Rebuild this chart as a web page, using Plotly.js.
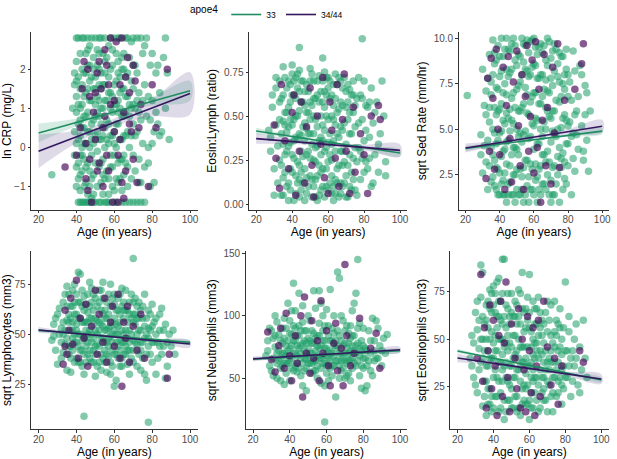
<!DOCTYPE html>
<html><head><meta charset="utf-8">
<script src="https://cdn.plot.ly/plotly-3.0.1.min.js"></script>
<style>html,body{margin:0;padding:0;background:#fff;overflow:hidden}#chart{width:617px;height:459px}</style>
</head><body><div id="chart"></div>
<script>
// ---------- data ----------
const groups = ["33", "34/44"];
const xTicks = [20, 40, 60, 80, 100];
const fitAge = [20, 40, 60, 80, 100];

// Panel 1: ln CRP
const crp33 = [[27,-0.7],[40,2.2],[41,1.8],[42,1.5],[43,1.1],[40,0.9],[41,0.6],[42,0.3],[43,0.0],[44,-0.3],[40,-0.5],[41,-0.8],[42,-1.1],[43,-1.4],[44,1.9],[45,2.4],[39,1.6],[40,1.3],[41,0.2],[42,-0.2],[43,-0.6],[44,0.8],[45,1.4],[39,0.4],[40,-1.0],[41,2.8],[44,2.8],[45,-1.4],[38,1.0],[43,2.0],[44,0.5],[45,-0.9],[42,1.0],[45,0.1],[41,-1.4],[39,-0.2],
[46,2.1],[47,1.7],[48,1.2],[49,0.7],[50,0.3],[51,-0.1],[52,-0.5],[53,-0.9],[54,-1.2],[55,1.9],[46,0.9],[47,0.4],[48,-0.2],[49,-0.7],[50,-1.4],[51,2.5],[52,2.0],[53,1.5],[54,1.0],[55,0.5],[46,-0.4],[47,-1.0],[48,2.8],[49,2.3],[50,1.8],[51,1.3],[52,0.8],[53,0.2],[54,-0.3],[55,-0.8],[46,1.5],[47,2.6],[48,0.6],[49,-1.2],[50,2.8],[51,0.9],[52,-1.4],[53,2.8],[54,2.4],[55,-1.4],[50,1.1],[48,-0.8],[53,0.6],[47,0.0],[52,1.6],[55,1.2],
[56,2.3],[57,1.8],[58,1.4],[59,0.9],[60,0.4],[61,0.0],[62,-0.4],[63,-0.8],[64,-1.1],[65,2.0],[56,0.7],[57,0.1],[58,-0.5],[59,-1.0],[60,2.8],[61,2.4],[62,1.9],[63,1.4],[64,0.8],[65,0.3],[56,-1.4],[57,2.6],[58,1.0],[59,2.1],[60,1.6],[61,1.1],[62,0.6],[63,0.2],[64,-0.3],[65,-0.7],[57,-0.8],[59,0.3],[61,-1.4],[63,2.8],[65,1.5],[60,-0.2],[62,1.2],[64,2.3],[58,2.8],
[66,1.8],[67,1.3],[68,0.8],[69,0.3],[70,-0.2],[71,-0.6],[72,1.9],[73,1.4],[74,0.7],[75,0.1],[66,-0.4],[67,-1.0],[68,2.3],[69,2.7],[70,1.5],[71,1.0],[72,0.4],[73,-0.3],[74,-0.9],[75,2.4],[66,2.8],[68,-1.4],[70,2.8],[72,-1.4],[74,2.8],[67,0.4],[69,1.0],[71,2.1],[73,0.9],[75,1.2],[66,0.9],[70,0.6],
[76,1.6],[77,0.8],[78,0.0],[79,2.1],[80,1.2],[81,0.4],[82,1.9],[83,0.6],[84,1.4],[85,0.4],[86,2.3],[88,1.9],[89,0.2],[76,-0.5],[77,2.8],[78,1.3],[79,0.7],[80,2.4],[81,-0.9],[82,0.9],[76,2.6],[78,-0.4],[80,0.1],[83,2.1],[84,0.3],[87,2.8],[76,-1.4],[79,-1.0],[87,1.0],[74,-1.4],
[39,1.9],[40,0.1],[40,1.7],[41,1.1],[41,-0.4],[42,2.4],[42,0.7],[42,-0.7],[43,1.6],[43,0.5],[43,-0.2],[44,1.3],[44,0.1],[44,-1.0],[45,0.8],[45,1.9],[45,-0.5],[46,2.5],[46,0.4],[46,-1.2],[47,1.2],[47,-0.6],[47,2.1],[48,1.8],[48,0.2],[48,-1.3],[49,1.5],[49,0.1],[49,2.0],[50,0.8],[50,-0.4],[50,1.5],[51,2.1],[51,0.4],[51,-1.0],[52,1.2],[52,0.2],[52,2.4],[53,1.0],[53,-0.4],[53,1.9],[54,1.6],[54,0.3],[54,-0.7],[55,2.2],[55,0.0],[55,1.6],[56,1.2],[56,0.2],[56,-0.6],[57,1.4],[57,0.6],[57,-1.2],[58,2.0],[58,0.3],[58,-0.2],[59,1.3],[59,-0.5],[59,2.5],[60,1.1],[60,0.1],[60,-1.1],[61,1.7],[61,0.6],[61,-0.8],[62,2.2],[62,0.9],[62,-0.9],[63,1.0],[63,-0.3],[63,1.8],[64,1.5],[64,0.2],[64,2.0],[65,0.8],[65,-0.2],[65,2.4],[66,1.3],[66,0.3],[67,1.9],[67,-0.5],[68,1.1],[68,0.0],[69,1.7],[69,-0.8],[70,1.1],[70,2.1],[71,0.3],[72,1.2],[73,-0.9],
[40,2.8],[43,2.8],[46,2.8],[52,2.8],[55,2.8],[62,2.8],[67,2.8],[72,2.8],[42,-1.4],[44,-1.4],[46,-1.4],[47,-1.4],[49,-1.4],[53,-1.4],[57,-1.4],[60,-1.4],[64,-1.4],[66,-1.4],[70,-1.4]];
const crp3444 = [[34,-0.5],[40,-0.2],[42,0.5],[44,2.2],[45,-0.8],[47,1.3],[48,-1.4],[50,0.2],[51,1.9],[52,-0.4],[53,1.5],[54,-1.0],[55,0.8],[56,2.1],[57,-0.6],[58,1.1],[59,-1.4],[60,0.4],[61,2.7],[62,-0.2],[63,1.6],[64,-0.9],[65,0.9],[66,-0.6],[67,2.3],[68,1.4],[69,0.4],[70,-0.3],[71,1.7],[72,-0.9],[73,0.5],[74,1.1],[78,-1.0],[80,1.6],[82,0.5],[88,2.0],[62,-1.4],[64,2.8],[58,2.8],[46,2.0],
[43,1.5],[45,0.1],[47,-0.3],[49,0.9],[50,1.4],[52,2.2],[54,0.5],[56,-0.2],[57,1.6],[60,1.2],[63,0.2],[65,-1.3],[66,1.8],[68,0.6],[70,2.1],[46,-1.1],[51,-0.6],[55,2.5]];
const crpFit33 = [0.37, 0.64, 0.91, 1.18, 1.45];
const crpSe33 = [0.24, 0.10, 0.06, 0.11, 0.25];
const crpFit3444 = [-0.10, 0.27, 0.64, 1.01, 1.38];
const crpSe3444 = [0.43, 0.16, 0.10, 0.22, 0.54];

// Panel 2: Eosin:Lymph
const el33 = [[27,0.42],[28,0.30],[29,0.55],[30,0.20],[31,0.66],[32,0.12],[33,0.48],[28,0.38],[30,0.05],[31,0.72],[32,0.33],[33,0.25],[29,0.62],[31,0.45],[33,0.70],
[34,0.05],[35,0.15],[36,0.28],[37,0.41],[38,0.55],[39,0.68],[40,0.74],[41,0.62],[42,0.50],[43,0.37],[44,0.22],[45,0.08],[34,0.60],[35,0.47],[36,0.72],[37,0.10],[38,0.33],[39,0.20],[40,0.45],[41,0.02],[42,0.16],[43,0.66],[44,0.53],[45,0.39],[36,0.52],[38,0.02],[40,0.28],[42,0.72],[44,0.76],[35,0.34],[39,0.48],[41,0.36],[43,0.12],[45,0.58],
[46,0.70],[47,0.56],[48,0.43],[49,0.30],[50,0.16],[51,0.04],[52,0.25],[53,0.48],[54,0.62],[55,0.73],[56,0.38],[57,0.10],[58,0.55],[59,0.20],[60,0.66],[46,0.27],[47,0.02],[48,0.68],[49,0.52],[50,0.40],[51,0.74],[52,0.60],[53,0.14],[54,0.33],[55,0.05],[56,0.64],[57,0.45],[58,0.30],[59,0.72],[60,0.08],[48,0.15],[50,0.58],[52,0.40],[54,0.02],[56,0.18],[58,0.75],[60,0.35],[47,0.36],[53,0.32],[57,0.70],[59,0.50],
[61,0.28],[62,0.50],[63,0.68],[64,0.14],[65,0.40],[66,0.04],[67,0.58],[68,0.22],[69,0.72],[70,0.34],[71,0.48],[72,0.10],[73,0.62],[74,0.26],[75,0.44],[61,0.60],[62,0.06],[63,0.36],[64,0.74],[65,0.20],[66,0.54],[67,0.30],[68,0.66],[69,0.12],[70,0.55],[71,0.04],[72,0.40],[73,0.18],[74,0.70],[75,0.08],[62,0.25],[64,0.45],[66,0.72],[68,0.42],[70,0.16],[72,0.65],[74,0.52],[63,0.02],[67,0.12],[71,0.68],
[76,0.60],[77,0.32],[78,0.14],[79,0.48],[80,0.70],[81,0.24],[82,0.55],[83,0.38],[84,0.10],[85,0.46],[86,0.28],[87,0.58],[88,0.18],[89,0.40],[90,0.70],[91,0.50],[92,0.16],[76,0.05],[78,0.62],[80,0.36],[82,0.20],[84,0.66],[86,0.52],[88,0.34],[92,0.24],[77,0.72],[79,0.26],[83,0.58],[85,0.12],[81,0.42],
[79,0.94],[44,0.89],[57,0.83],[40,0.79],[35,0.78],[50,0.77],
[33,0.58],[34,0.22],[34,0.40],[35,0.62],[35,0.05],[36,0.18],[36,0.45],[37,0.66],[37,0.30],[37,0.52],[38,0.12],[38,0.44],[38,0.70],[39,0.08],[39,0.35],[39,0.58],[40,0.18],[40,0.62],[41,0.26],[41,0.48],[41,0.70],[42,0.06],[42,0.38],[42,0.60],[43,0.24],[43,0.50],[43,0.74],[44,0.04],[44,0.14],[44,0.40],[44,0.64],[45,0.18],[45,0.30],[45,0.70],[46,0.12],[46,0.44],[46,0.58],[47,0.20],[47,0.46],[47,0.64],[48,0.06],[48,0.28],[48,0.52],[49,0.10],[49,0.40],[49,0.64],[50,0.26],[50,0.48],[50,0.70],[51,0.14],[51,0.34],[51,0.56],[52,0.10],[52,0.50],[52,0.70],[53,0.04],[53,0.24],[53,0.60],[54,0.16],[54,0.44],[54,0.70],[55,0.22],[55,0.36],[55,0.58],[56,0.08],[56,0.28],[56,0.50],[57,0.20],[57,0.36],[57,0.58],[58,0.04],[58,0.42],[58,0.64],[59,0.10],[59,0.32],[59,0.62],[60,0.24],[60,0.48],[60,0.72],[61,0.12],[61,0.40],[61,0.70],[62,0.16],[62,0.34],[62,0.62],[63,0.10],[63,0.48],[63,0.56],[64,0.06],[64,0.30],[64,0.60],[65,0.12],[65,0.52],[65,0.68],[66,0.22],[66,0.38],[67,0.06],[67,0.44],[67,0.70],[68,0.10],[68,0.30],[68,0.56],[69,0.24],[69,0.46],[70,0.04],[70,0.64],[71,0.22],[71,0.58],[72,0.28],[72,0.52],[73,0.08],[73,0.40],[74,0.14],[74,0.62],[75,0.32],[75,0.56],[76,0.24],[77,0.46],[78,0.30],[79,0.60],[80,0.18],[81,0.56],[83,0.26]];
const el3444 = [[30,0.45],[31,0.26],[33,0.09],[34,0.68],[36,0.36],[38,0.20],[40,0.52],[41,0.62],[42,0.05],[44,0.30],[45,0.58],[47,0.12],[48,0.44],[50,0.66],[51,0.22],[52,0.04],[54,0.50],[56,0.34],[57,0.72],[58,0.15],[60,0.06],[61,0.58],[62,0.42],[64,0.26],[65,0.68],[66,0.10],[68,0.48],[69,0.74],[70,0.30],[72,0.06],[74,0.55],[75,0.18],[78,0.40],[80,0.28],[82,0.06],[84,0.50],[88,0.56],[89,0.48]];
const elFit33 = [0.415, 0.384, 0.353, 0.321, 0.290];
const elSe33 = [0.018, 0.008, 0.006, 0.008, 0.020];
const elFit3444 = [0.372, 0.355, 0.339, 0.322, 0.305];
const elSe3444 = [0.030, 0.014, 0.010, 0.016, 0.035];

// Panel 3: sqrt Sed Rate
const sed33 = [[21,6.85],[29,4.7],[30,2.6],[31,6.3],[32,3.2],[33,7.8],[34,5.4],[35,2.1],[30,8.3],[31,4.1],[32,5.8],[33,1.7],[34,9.1],[35,6.9],[29,3.6],[32,7.1],[34,3.0],
[36,9.9],[37,8.6],[38,7.3],[39,6.0],[40,4.8],[41,3.5],[42,2.2],[43,1.4],[44,1.0],[45,9.4],[46,8.1],[47,6.7],[48,5.3],[49,4.0],[50,2.8],[36,5.0],[37,3.3],[38,1.7],[39,9.6],[40,7.9],[41,6.4],[42,9.0],[43,7.5],[44,5.9],[45,4.4],[46,3.0],[47,1.4],[48,10.0],[49,8.8],[50,7.2],[36,2.4],[38,4.2],[40,1.4],[41,10.0],[42,5.5],[43,3.9],[44,8.3],[45,2.0],[46,6.1],[47,9.7],[48,2.5],[49,1.0],[50,5.0],[39,2.8],[37,6.2],[44,3.1],
[51,9.1],[52,7.6],[53,6.2],[54,4.7],[55,3.3],[56,1.9],[57,1.0],[58,9.8],[59,8.4],[60,7.0],[61,5.6],[62,4.2],[63,2.8],[64,1.4],[65,9.2],[51,3.6],[52,1.4],[53,10.0],[54,8.7],[55,7.3],[56,5.9],[57,4.5],[58,3.1],[59,1.7],[60,10.0],[61,8.5],[62,7.8],[63,6.4],[64,5.0],[65,3.6],[51,6.0],[53,2.4],[55,9.6],[57,7.9],[59,5.3],[61,2.2],[63,9.5],[65,6.8],[52,4.8],[54,1.0],[56,8.2],[58,6.5],[60,3.9],[62,1.0],[64,8.0],
[66,2.0],[67,8.8],[68,7.1],[69,5.7],[70,4.3],[71,2.9],[72,1.4],[73,9.4],[74,7.9],[75,6.5],[76,5.1],[77,3.7],[78,2.3],[79,8.3],[80,6.8],[66,5.4],[67,3.2],[68,10.0],[69,1.4],[70,8.9],[71,7.4],[72,6.0],[73,4.6],[74,2.5],[75,1.0],[76,9.0],[77,7.5],[78,5.8],[79,4.2],[80,3.0],[68,3.8],[70,1.0],[72,9.7],[74,5.0],[76,2.9],[78,8.0],[80,5.2],[67,6.2],[71,4.9],[75,9.2],[79,2.0],
[81,7.6],[82,4.6],[83,3.4],[84,8.2],[85,6.0],[86,3.9],[87,8.5],[88,5.2],[89,3.3],[90,7.4],[91,4.4],[92,2.7],[93,6.0],[84,2.7],[86,6.8],[88,8.0],[90,5.8],[82,1.4],[83,9.3],[85,4.7],[89,3.8],[91,7.0],
[33,4.4],[34,6.2],[35,4.0],[35,7.6],[36,3.6],[36,8.0],[37,1.9],[37,4.8],[37,9.2],[38,2.9],[38,5.8],[38,8.8],[39,1.4],[39,4.4],[39,7.2],[40,2.6],[40,6.1],[40,9.0],[41,2.0],[41,4.9],[41,8.2],[42,1.4],[42,3.8],[42,7.0],[43,2.6],[43,5.3],[43,9.4],[44,4.3],[44,6.9],[44,10.0],[45,1.4],[45,5.6],[45,7.9],[46,2.1],[46,4.9],[46,9.3],[47,3.6],[47,5.5],[47,8.3],[48,1.4],[48,4.0],[48,7.0],[49,2.5],[49,6.2],[49,9.6],[50,1.7],[50,3.9],[50,8.5],[51,1.4],[51,4.6],[51,7.4],[52,2.8],[52,6.0],[52,9.0],[53,1.7],[53,4.3],[53,8.0],[54,2.9],[54,6.4],[54,9.7],[55,1.4],[55,4.9],[55,8.3],[56,3.3],[56,6.9],[56,9.9],[57,2.4],[57,5.8],[57,9.2],[58,1.7],[58,4.6],[58,8.0],[59,2.8],[59,6.8],[59,9.9],[60,1.4],[60,5.2],[60,8.6],[61,3.1],[61,7.0],[61,9.5],[62,2.4],[62,5.5],[62,9.1],[63,1.7],[63,4.2],[63,7.8],[64,3.0],[64,6.4],[64,9.7],[65,2.0],[65,4.6],[65,8.0],[66,3.6],[66,7.2],[66,9.6],[67,1.7],[67,5.0],[67,7.7],[68,2.5],[68,6.0],[68,8.5],[69,3.2],[69,7.0],[69,9.8],[70,2.2],[70,5.6],[70,7.8],[71,1.4],[71,6.0],[71,9.3],[72,3.0],[72,4.7],[72,8.2],[73,2.0],[73,6.6],[74,3.5],[74,8.6],[75,4.0],[75,7.6],[76,3.4],[76,6.8],[77,1.7],[77,5.6],[77,9.0],[78,3.2],[78,7.2],[79,5.5],[79,9.4],[80,4.2],[80,8.0],[81,5.4],[82,6.6],[83,4.8],[84,5.8]];
const sed3444 = [[32,2.3],[33,7.8],[34,3.8],[35,8.9],[36,6.7],[37,2.8],[38,9.4],[39,5.0],[40,3.6],[42,8.4],[43,1.7],[44,6.3],[45,9.0],[46,4.5],[47,2.1],[48,7.6],[50,9.3],[51,5.2],[52,3.0],[53,8.0],[54,1.7],[55,6.8],[56,9.6],[57,3.8],[58,5.7],[59,8.8],[60,2.6],[61,9.8],[62,4.0],[63,7.2],[64,1.0],[65,5.5],[66,9.1],[67,3.0],[68,6.2],[70,2.0],[71,8.4],[72,4.8],[74,9.7],[75,2.9],[78,6.6],[89,9.7],[88,8.6],[84,7.2]];
const sedFit33 = [3.95, 4.19, 4.43, 4.66, 4.90];
const sedSe33 = [0.15, 0.07, 0.05, 0.07, 0.16];
const sedFit3444 = [3.97, 4.27, 4.57, 4.87, 5.17];
const sedSe3444 = [0.25, 0.12, 0.08, 0.15, 0.35];

// Panel 4: sqrt Lymphocytes
const lym33 = [[27,47],[28,55],[29,42],[30,60],[31,50],[32,38],[33,66],[34,45],[35,57],[28,49],[30,35],[31,63],[32,53],[33,41],[34,70],[35,32],[29,58],[33,50],[35,74],
[36,40],[37,52],[38,64],[39,75],[40,46],[41,58],[42,80],[43,34],[44,69],[45,48],[46,61],[47,38],[48,73],[49,55],[50,44],[36,60],[37,31],[38,48],[39,36],[40,70],[41,81],[42,42],[43,56],[44,30],[45,65],[46,50],[47,76],[48,36],[49,62],[50,29],[38,56],[40,55],[42,66],[44,49],[46,40],[48,58],[50,68],[37,44],[43,47],[49,42],[41,36],[45,56],[47,52],[39,60],
[51,57],[52,36],[53,72],[54,48],[55,62],[56,31],[57,53],[58,75],[59,42],[60,65],[61,27],[62,50],[63,70],[64,38],[65,58],[51,45],[52,66],[53,32],[54,76],[55,42],[56,58],[57,39],[58,49],[59,68],[60,24],[61,55],[62,44],[63,34],[64,73],[65,46],[52,52],[54,60],[56,46],[58,30],[60,52],[62,62],[64,52],[53,55],[57,70],[59,56],[61,40],[63,47],[55,52],[65,66],
[66,40],[67,62],[68,52],[69,70],[70,36],[71,55],[72,45],[73,66],[74,32],[75,58],[76,48],[77,27],[78,62],[79,40],[80,54],[66,72],[67,48],[68,30],[69,58],[70,47],[71,68],[72,34],[73,52],[74,62],[75,38],[76,70],[77,50],[78,44],[79,60],[80,36],[68,42],[72,58],[76,30],[70,60],[74,46],[78,53],[67,35],[80,65],
[81,46],[82,58],[83,38],[84,52],[85,63],[86,44],[87,55],[88,34],[89,50],[90,44],[91,52],[92,40],[82,30],[84,60],[86,52],[88,46],[85,40],[87,28],
[44,9],[78,6],[70,88],
[32,46],[33,56],[34,52],[35,48],[35,64],[36,44],[36,56],[36,70],[37,38],[37,58],[37,64],[38,42],[38,52],[38,72],[39,46],[39,50],[39,66],[40,38],[40,52],[40,60],[41,44],[41,50],[41,66],[42,36],[42,50],[42,58],[43,42],[43,64],[43,72],[44,40],[44,56],[44,62],[45,36],[45,44],[45,52],[46,46],[46,56],[46,70],[47,42],[47,58],[47,64],[48,46],[48,50],[48,66],[49,36],[49,48],[49,70],[50,40],[50,52],[50,58],[51,34],[51,50],[51,64],[52,44],[52,56],[52,72],[53,40],[53,48],[53,62],[54,38],[54,54],[54,68],[55,46],[55,58],[55,36],[56,40],[56,52],[56,66],[57,44],[57,48],[57,60],[58,36],[58,54],[58,64],[59,46],[59,50],[59,34],[60,40],[60,58],[60,70],[61,46],[61,62],[61,50],[62,38],[62,54],[62,68],[63,42],[63,56],[63,60],[64,46],[64,64],[64,34],[65,40],[65,50],[65,62],[66,44],[66,52],[66,62],[67,42],[67,56],[68,46],[68,60],[68,66],[69,38],[69,50],[70,42],[70,56],[70,66],[71,46],[71,60],[72,50],[72,64],[73,40],[73,58],[74,52],[74,42],[75,46],[75,64],[76,54],[77,40],[77,58],[78,48],[79,52],[80,46],[81,56],[82,50],[83,46],[84,44]];
const lym3444 = [[33,35],[34,62],[35,40],[36,52],[37,68],[38,45],[40,77],[41,38],[42,58],[44,48],[45,65],[46,34],[48,54],[50,72],[51,40],[52,60],[54,46],[55,68],[56,36],[58,56],[59,64],[60,44],[62,70],[63,38],[64,24],[65,56],[66,48],[67,64],[68,36],[70,54],[72,42],[74,60],[76,38],[88,28],[89,40],[34,44]];
const lymFit33 = [52.0, 50.5, 49.0, 47.5, 46.0];
const lymSe33 = [0.8, 0.4, 0.3, 0.4, 0.9];
const lymFit3444 = [52.2, 50.45, 48.7, 46.95, 45.2];
const lymSe3444 = [1.5, 0.7, 0.5, 0.8, 1.7];

// Panel 5: sqrt Neutrophils
const neu33 = [[27,68],[28,80],[29,60],[30,88],[31,52],[32,75],[33,95],[34,64],[35,48],[28,72],[30,56],[31,82],[32,100],[33,70],[34,85],[35,58],[29,90],[33,50],
[36,78],[37,98],[38,62],[39,110],[40,48],[41,85],[42,70],[43,104],[44,55],[45,92],[46,76],[47,44],[48,88],[49,65],[50,100],[36,60],[37,45],[38,90],[39,72],[40,96],[41,58],[42,126],[43,80],[44,68],[45,118],[46,52],[47,95],[48,72],[49,40],[50,82],[38,76],[40,64],[42,92],[44,84],[46,66],[48,56],[50,68],[37,70],[41,104],[43,60],[45,74],[47,108],[49,78],
[51,62],[52,88],[53,120],[54,72],[55,50],[56,94],[57,66],[58,80],[59,44],[60,105],[61,72],[62,58],[63,90],[64,76],[65,35],[51,96],[52,54],[53,78],[54,106],[55,84],[56,120],[57,46],[58,62],[59,92],[60,68],[61,84],[62,121],[63,52],[64,100],[65,64],[52,70],[54,56],[56,74],[58,100],[60,54],[62,80],[64,60],[53,64],[55,68],[57,110],[59,74],[61,48],[63,70],[59,15],
[66,88],[67,70],[68,56],[69,96],[70,78],[71,62],[72,86],[73,48],[74,104],[75,72],[76,60],[77,90],[78,52],[79,80],[80,66],[66,135],[67,130],[68,100],[69,66],[70,50],[71,92],[72,70],[73,82],[74,58],[75,110],[76,118],[77,145],[78,74],[79,42],[80,90],[68,80],[70,64],[72,54],[74,84],[76,76],[78,94],[80,58],[67,50],[73,65],
[81,74],[82,60],[83,88],[84,70],[85,52],[86,80],[87,96],[88,66],[89,76],[90,60],[91,82],[92,70],[93,85],[82,44],[84,56],[86,64],[88,90],[90,72],[85,98],[81,40],
[31,66],[32,84],[33,62],[34,72],[35,80],[35,66],[36,70],[36,90],[37,62],[37,82],[38,68],[38,54],[39,80],[39,62],[40,74],[40,86],[41,66],[41,76],[42,56],[42,80],[43,70],[43,90],[44,62],[44,76],[45,58],[45,84],[46,70],[46,88],[47,62],[47,78],[48,66],[48,80],[49,58],[49,88],[50,62],[50,74],[51,70],[51,80],[52,62],[52,78],[53,56],[53,86],[54,64],[54,82],[55,60],[55,76],[56,66],[56,84],[57,58],[57,76],[58,68],[58,88],[59,62],[59,80],[60,74],[60,60],[61,66],[61,92],[62,70],[62,64],[63,60],[63,80],[64,68],[64,86],[65,74],[65,80],[66,64],[66,76],[67,60],[67,84],[68,70],[68,64],[69,76],[69,58],[70,70],[70,88],[71,74],[71,52],[72,64],[72,78],[73,72],[73,92],[74,66],[74,76],[75,62],[75,84],[76,70],[77,64],[77,78],[78,68],[79,60],[79,72],[80,76],[81,66],[82,72],[83,64],[84,80],[86,72],[87,66]];
const neu3444 = [[28,87],[30,65],[32,55],[34,76],[35,90],[37,58],[38,102],[40,68],[41,48],[43,84],[44,62],[46,100],[47,35],[48,115],[49,70],[51,54],[52,96],[53,66],[55,80],[56,48],[57,112],[58,70],[60,88],[61,60],[62,44],[64,78],[65,94],[66,56],[68,74],[69,44],[70,141],[71,84],[73,60],[75,70],[78,98],[84,74],[87,86],[89,58]];
const neuFit33 = [65.3, 66.98, 68.65, 70.33, 72.0];
const neuSe33 = [1.2, 0.5, 0.4, 0.6, 1.3];
const neuFit3444 = [65.6, 67.4, 69.2, 71.0, 72.8];
const neuSe3444 = [2.0, 0.9, 0.6, 1.0, 2.2];

// Panel 6: sqrt Eosinophils
const eos33 = [[27,40],[28,52],[29,30],[30,64],[31,22],[32,45],[33,72],[34,15],[35,58],[28,36],[29,48],[30,26],[31,70],[32,60],[33,38],[34,50],[35,28],[33,89],[34,85],[31,55],
[36,10],[37,44],[38,66],[39,20],[40,78],[41,34],[42,56],[43,12],[44,70],[45,28],[46,92],[47,48],[48,18],[49,62],[50,36],[36,60],[37,24],[38,40],[39,74],[40,14],[41,52],[42,80],[43,38],[44,22],[45,58],[46,8],[47,68],[48,44],[49,26],[50,74],[38,16],[40,48],[42,30],[44,50],[46,36],[48,66],[50,14],[37,70],[39,54],[41,64],[43,62],[45,42],[47,30],[49,48],[45,92],[36,36],[43,82],
[51,52],[52,20],[53,68],[54,34],[55,10],[56,85],[57,46],[58,24],[59,60],[60,84],[61,14],[62,42],[63,66],[64,30],[65,52],[51,30],[52,62],[53,12],[54,50],[55,74],[56,38],[57,18],[58,56],[59,36],[60,8],[61,46],[62,70],[63,22],[64,58],[65,12],[52,42],[54,76],[56,24],[58,40],[60,56],[62,28],[64,44],[53,34],[55,46],[57,64],[59,16],[61,30],[63,48],[65,72],
[66,34],[67,60],[68,18],[69,44],[70,70],[71,26],[72,52],[73,12],[74,38],[75,60],[76,28],[77,46],[78,16],[79,56],[80,80],[66,56],[67,22],[68,48],[69,64],[70,12],[71,40],[72,68],[73,30],[74,54],[75,20],[76,44],[77,66],[78,34],[79,24],[80,44],[68,30],[70,38],[72,20],[74,70],[76,58],[78,50],[67,42],
[81,30],[82,54],[83,20],[84,44],[85,36],[86,58],[87,26],[88,46],[89,34],[90,60],[91,40],[92,30],[82,62],[84,28],[86,40],[88,22],[85,50],[83,40],
[32,34],[33,50],[34,40],[34,62],[35,20],[35,44],[36,28],[36,50],[36,68],[37,16],[37,36],[37,56],[38,24],[38,50],[38,76],[39,12],[39,40],[39,64],[40,30],[40,40],[40,68],[41,20],[41,44],[41,74],[42,20],[42,44],[42,62],[43,28],[43,50],[43,70],[44,14],[44,38],[44,60],[45,34],[45,50],[45,74],[46,18],[46,46],[46,62],[47,12],[47,38],[47,56],[48,28],[48,52],[48,74],[49,18],[49,36],[49,58],[50,24],[50,46],[50,64],[51,14],[51,40],[51,62],[52,30],[52,52],[52,70],[53,20],[53,44],[53,58],[54,14],[54,40],[54,62],[55,28],[55,36],[55,58],[56,16],[56,46],[56,66],[57,26],[57,38],[57,54],[58,16],[58,32],[58,66],[59,26],[59,46],[59,72],[60,18],[60,36],[60,64],[61,22],[61,54],[61,38],[62,14],[62,34],[62,50],[63,30],[63,40],[63,58],[64,18],[64,48],[64,66],[65,26],[65,40],[66,14],[66,44],[66,64],[67,30],[67,52],[68,24],[68,38],[68,58],[69,18],[69,34],[70,28],[70,54],[71,34],[71,60],[72,38],[72,44],[73,22],[73,48],[74,30],[74,46],[75,34],[75,52],[76,22],[76,38],[77,30],[77,56],[78,26],[78,42],[79,36],[80,30],[81,44],[82,36]];
const eos3444 = [[31,40],[33,84],[34,28],[35,56],[36,14],[37,44],[38,68],[39,24],[40,60],[41,36],[42,10],[43,52],[44,70],[45,20],[46,48],[47,80],[48,30],[49,12],[50,58],[52,40],[53,24],[54,66],[55,14],[56,50],[57,34],[58,12],[59,62],[60,44],[61,22],[62,56],[63,10],[64,36],[65,60],[66,20],[68,70],[70,46],[72,26],[74,40],[76,16],[78,36],[88,44],[90,38]];
const eosFit33 = [43.9, 40.1, 36.3, 32.5, 28.7];
const eosSe33 = [1.2, 0.5, 0.4, 0.6, 1.3];
const eosFit3444 = [40.2, 37.45, 34.7, 31.95, 29.2];
const eosSe3444 = [2.2, 1.0, 0.7, 1.1, 2.5];

// ---------- chart ----------
const panels = [
  {pts:[crp33, crp3444], fit:[crpFit33, crpFit3444], se:[crpSe33, crpSe3444], title:'ln CRP (mg/L)', yt:[-1,0,1,2], fmt:'d', yr:[-1.6,2.96]},
  {pts:[el33, el3444], fit:[elFit33, elFit3444], se:[elSe33, elSe3444], title:'Eosin:Lymph (ratio)', yt:[0,0.25,0.5,0.75], fmt:'.2f', yr:[-0.034,0.98]},
  {pts:[sed33, sed3444], fit:[sedFit33, sedFit3444], se:[sedSe33, sedSe3444], title:'sqrt Sed Rate (mm/hr)', yt:[2.5,5,7.5,10], fmt:'.1f', yr:[0.57,10.36]},
  {pts:[lym33, lym3444], fit:[lymFit33, lymFit3444], se:[lymSe33, lymSe3444], title:'sqrt Lymphocytes (mm3)', yt:[25,50,75], fmt:'d', yr:[2.5,91.7]},
  {pts:[neu33, neu3444], fit:[neuFit33, neuFit3444], se:[neuSe33, neuSe3444], title:'sqrt Neutrophils (mm3)', yt:[50,100,150], fmt:'d', yr:[9.2,151.8]},
  {pts:[eos33, eos3444], fit:[eosFit33, eosFit3444], se:[eosSe33, eosSe3444], title:'sqrt Eosinophils (mm3)', yt:[25,50,75], fmt:'d', yr:[2.8,96.3]}
];
const W = 617;
// right-hand panels end a few px short of the edge so the "100" tick label is kept
const xPx = [[31,197.6],[249,407.2],[458.7,609],[31,197.6],[245.7,407.4],[450.3,608.5]];
const xDom = xPx.map(d => [d[0] / W, d[1] / W]);
const yDom = [[0.5425,0.931],[0.5425,0.931],[0.5425,0.931],[0.0647,0.4532],[0.0647,0.4532],[0.0647,0.4532]];

const ptColor = ['rgba(30,158,104,0.55)', 'rgba(68,1,84,0.65)'];
const lineColor = ['#1f8c62', '#33175f'];
const bandColor = ['rgba(30,150,100,0.18)', 'rgba(80,50,130,0.18)'];

const traces = [];
const layout = {
  width: W, height: 459,
  margin: {l:0, r:0, t:0, b:0},
  paper_bgcolor: '#fff', plot_bgcolor: '#fff',
  font: {family: 'Liberation Sans, Arial, sans-serif', color: '#000'},
  showlegend: true,
  legend: {orientation: 'h', x: 268 / W, xanchor: 'center', y: 1.0, yanchor: 'top',
    title: {text: 'apoe4', side: 'left', font: {size: 10}}, font: {size: 8.5},
    itemwidth: 30, bgcolor: 'rgba(0,0,0,0)'}
};

panels.forEach((p, i) => {
  const n = i === 0 ? '' : String(i + 1);
  const xa = 'x' + n, ya = 'y' + n;
  [0, 1].forEach(g => {
    traces.push({type: 'scatter', mode: 'markers', xaxis: xa, yaxis: ya,
      x: p.pts[g].map(d => d[0]), y: p.pts[g].map(d => d[1]),
      marker: {size: 7.5, color: ptColor[g], line: {width: 0}},
      showlegend: false, hoverinfo: 'skip', name: groups[g]});
  });
  [0, 1].forEach(g => {
    const hi = p.fit[g].map((v, k) => v + p.se[g][k]);
    const lo = p.fit[g].map((v, k) => v - p.se[g][k]);
    traces.push({type: 'scatter', mode: 'lines', xaxis: xa, yaxis: ya,
      x: fitAge.concat(fitAge.slice().reverse()), y: hi.concat(lo.slice().reverse()),
      fill: 'toself', fillcolor: bandColor[g], line: {width: 0, shape: 'spline'},
      showlegend: false, hoverinfo: 'skip', name: groups[g]});
  });
  [0, 1].forEach(g => {
    traces.push({type: 'scatter', mode: 'lines', xaxis: xa, yaxis: ya,
      x: fitAge, y: p.fit[g], line: {color: lineColor[g], width: 1.6},
      name: groups[g], legendgroup: groups[g], showlegend: i === 0, hoverinfo: 'skip'});
  });
  const axBase = {showline: true, linecolor: '#333', linewidth: 1, ticks: 'outside', ticklen: 2.5,
    tickcolor: '#333', tickwidth: 1, showgrid: false, zeroline: false,
    ticklabeloverflow: 'allow', tickfont: {size: 10, color: '#4d4d4d'}};
  layout['xaxis' + n] = Object.assign({}, axBase, {domain: xDom[i], anchor: ya, range: [16, 104],
    tickvals: xTicks, ticklabelstandoff: -2,
    title: {text: 'Age (in years)', font: {size: 12, color: '#000'}, standoff: 0}});
  layout['yaxis' + n] = Object.assign({}, axBase, {domain: yDom[i], anchor: xa, range: p.yr,
    tickvals: p.yt, tickformat: p.fmt, title: {text: p.title, font: {size: 12, color: '#000'}, standoff: 4}});
});

Plotly.newPlot('chart', traces, layout, {displayModeBar: false, staticPlot: true});
</script>
</body></html>
